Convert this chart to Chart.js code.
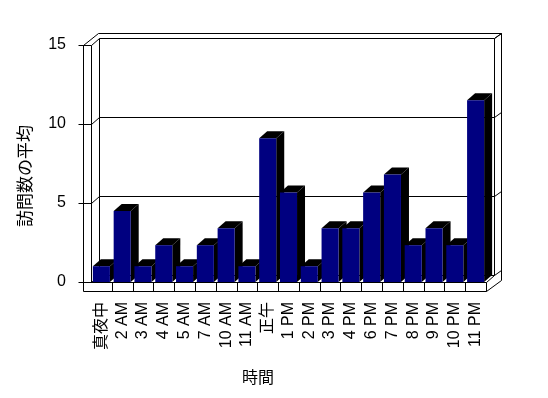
<!DOCTYPE html>
<html>
<head>
<meta charset="utf-8">
<script src="https://cdn.jsdelivr.net/npm/chart.js@4/dist/chart.umd.min.js"></script>
<style>
  body { margin: 0; background: #fff; }
  canvas { display: block; }
</style>
</head>
<body>
<canvas id="visitsChart" width="548" height="398"></canvas>
<script>
// Hours of the day (x categories)
const hours = ["真夜中", "2 AM", "3 AM", "4 AM", "5 AM", "7 AM", "10 AM", "11 AM", "正午",
  "1 PM", "2 PM", "3 PM", "4 PM", "6 PM", "7 PM", "8 PM", "9 PM", "10 PM", "11 PM"];
// Average number of visits per hour
const avgVisits = [1, 4.5, 1, 2.33, 1, 2.33, 3.4, 1, 9.1, 5.67, 1, 3.4, 3.4, 5.67, 6.8, 2.33, 3.4, 2.33, 11.5];
const yTicks = [0, 5, 10, 15];

const FONT = '"Liberation Sans", Arial, "Noto Sans CJK JP", sans-serif';
const DX = 8, DY = 7; // depth offset of the 3D box

// Excel-like 3D walls, floor and bar sides
const box3d = {
  id: 'box3d',
  beforeDatasetsDraw(chart) {
    const ctx = chart.ctx;
    const { left: L, right: R, top: T, bottom: B } = chart.chartArea;
    const ys = chart.scales.y, xs = chart.scales.x;
    const OR = R + DX + 7, OT = T - DY - 5;
    const line = (x1, y1, x2, y2) => {
      ctx.beginPath();
      ctx.moveTo(Math.round(x1) + 0.5, Math.round(y1) + 0.5);
      ctx.lineTo(Math.round(x2) + 0.5, Math.round(y2) + 0.5);
      ctx.stroke();
    };
    ctx.save();
    ctx.strokeStyle = '#000';
    ctx.lineWidth = 1;

    // back wall + outer frame
    line(L + DX, T - DY, L + DX, B - DY);
    line(R + DX, T - DY, R + DX, B - DY);
    line(L + DX - 1, OT, OR, OT);
    line(OR, OT, OR, B - 2);
    line(L - 8, T, L + DX - 1, OT);
    line(R + DX, T - DY, OR, OT);

    // left wall
    line(L - 8, T, L - 8, B + 9);
    line(L, T, L, B);

    // floor
    line(L - 8, B, R, B);
    line(L - 8, B + 9, R, B + 9);
    line(R, B, R, B + 9);
    line(R, B, R + DX, B - DY);
    line(R, B + 9, OR, B - 2);

    // gridlines on walls
    yTicks.forEach(v => {
      const py = ys.getPixelForValue(v);
      line(L - 13, py, L, py);
      line(L, py, L + DX, py - DY);
      line(L + DX, py - DY, R + DX, py - DY);
      line(R + DX, py - DY, OR, py - DY - 5);
    });

    // category ticks on the floor
    const step = (R - L) / hours.length;
    for (let i = 1; i < hours.length; i++) {
      const px = xs.getPixelForValue(i) - step / 2;
      line(px, B, px, B + 9);
    }

    // bar tops and sides
    ctx.fillStyle = '#000';
    chart.getDatasetMeta(0).data.forEach(bar => {
      const p = bar.getProps(['x', 'y', 'base', 'width'], true);
      const x0 = p.x - p.width / 2, x1 = p.x + p.width / 2;
      ctx.beginPath();
      ctx.moveTo(x0, p.y);
      ctx.lineTo(x1, p.y);
      ctx.lineTo(x1 + DX, p.y - DY);
      ctx.lineTo(x0 + DX, p.y - DY);
      ctx.closePath();
      ctx.fill();
      ctx.beginPath();
      ctx.moveTo(x1, p.y);
      ctx.lineTo(x1 + DX, p.y - DY);
      ctx.lineTo(x1 + DX, p.base - DY);
      ctx.lineTo(x1, p.base);
      ctx.closePath();
      ctx.fill();
    });
    ctx.restore();
  },
  afterDraw(chart) {
    const ctx = chart.ctx;
    ctx.save();
    ctx.fillStyle = '#000';
    ctx.textAlign = 'center';
    ctx.textBaseline = 'middle';
    ctx.font = '16px "Noto Sans CJK JP", sans-serif';
    ctx.fillText('時間', 258, 377);
    ctx.font = '17px "Noto Sans CJK JP", sans-serif';
    ctx.translate(25, 176);
    ctx.rotate(-Math.PI / 2);
    ctx.fillText('訪問数の平均', 0, 0);
    ctx.restore();
  }
};

new Chart(document.getElementById('visitsChart'), {
  type: 'bar',
  data: {
    labels: hours,
    datasets: [{
      label: '訪問数の平均',
      data: avgVisits,
      backgroundColor: '#000080',
      borderWidth: 0,
      barPercentage: 0.82,
      categoryPercentage: 1
    }]
  },
  options: {
    responsive: false,
    animation: false,
    layout: { padding: { top: 45, right: 62, left: 0, bottom: 0 } },
    plugins: {
      legend: { display: false },
      tooltip: { enabled: false }
    },
    scales: {
      x: {
        grid: { display: false, drawTicks: false },
        border: { display: false },
        ticks: {
          autoSkip: false, minRotation: 90, maxRotation: 90, padding: 20,
          color: '#000', font: { family: FONT, size: 16 }
        },
        afterFit: s => { s.height = 116; }
      },
      y: {
        min: 0, max: 15,
        grid: { display: false, drawTicks: false },
        border: { display: false },
        ticks: {
          stepSize: 5, padding: 25,
          color: '#000', font: { family: FONT, size: 16 }
        },
        afterFit: s => { s.width = 91; }
      }
    }
  },
  plugins: [box3d]
});
</script>
</body>
</html>
